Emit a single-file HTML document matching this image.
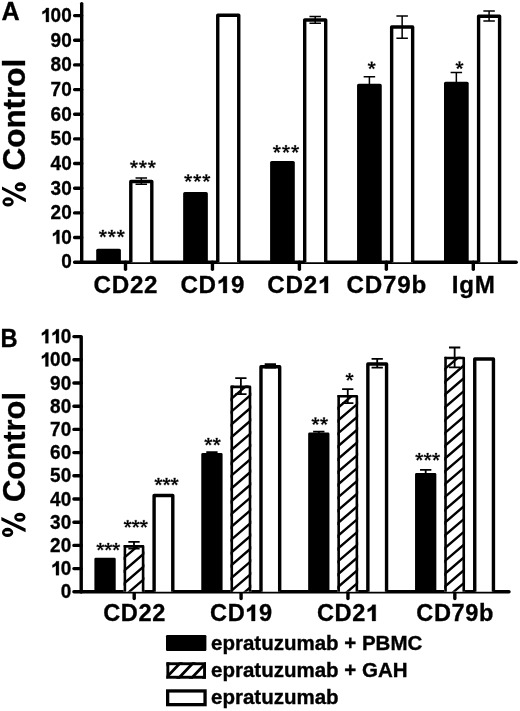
<!DOCTYPE html>
<html><head><meta charset="utf-8"><title>% Control</title><style>
html,body{margin:0;padding:0;background:#fff;}
body{width:520px;height:711px;overflow:hidden;}
svg{display:block;font-family:"Liberation Sans", sans-serif;filter:grayscale(1);}
text{stroke:#000;stroke-width:0.3px;}
.o{stroke:#000;stroke-width:0.3px;}
</style></head><body>
<svg width="520" height="711" viewBox="0 0 520 711">
<rect width="520" height="711" fill="#fff"/>
<defs><clipPath id="hc0"><rect x="123.60" y="545.10" width="20.80" height="46.70"/></clipPath><clipPath id="hc1"><rect x="230.48" y="385.60" width="20.80" height="206.20"/></clipPath><clipPath id="hc2"><rect x="337.36" y="394.90" width="20.80" height="196.90"/></clipPath><clipPath id="hc3"><rect x="444.24" y="356.70" width="20.80" height="235.10"/></clipPath><clipPath id="hl"><rect x="166.40" y="662.30" width="39.60" height="16.40"/></clipPath></defs>
<text x="1.4" y="19.6" font-size="25.2" font-weight="bold">A</text>
<text transform="translate(25.4,133.0) rotate(-90)" text-anchor="middle" font-size="31.5" font-weight="bold"><tspan style="fill:none;stroke:none">%</tspan> Control</text>
<path d="M2.42,201.90 A5.65,4.60 0 1 0 13.72,201.90 A5.65,4.60 0 1 0 2.42,201.90 Z M4.97,201.90 A3.10,1.30 0 1 0 11.17,201.90 A3.10,1.30 0 1 0 4.97,201.90 Z M14.70,186.95 A5.65,4.60 0 1 0 26.00,186.95 A5.65,4.60 0 1 0 14.70,186.95 Z M17.25,186.95 A3.10,1.30 0 1 0 23.45,186.95 A3.10,1.30 0 1 0 17.25,186.95 Z M2.00,186.50 L2.00,189.80 L25.90,202.20 L25.90,198.60Z" fill="#000" fill-rule="evenodd"/>
<path d="M81.7,262.2 V3.6" stroke="#000" stroke-width="3.4" stroke-linecap="round" fill="none"/>
<g transform="translate(0,268.50) scale(1,1.06) translate(0,-268.50)"><text x="61.14" y="268.50" font-size="19" font-weight="bold">0</text></g>
<g transform="translate(0,243.84) scale(1,1.06) translate(0,-243.84)"><path transform="translate(50.57,243.84) scale(0.01900,-0.01900)" d="M465,0 H312 V487 C262,441 203,407 125,383 V511 C170,526 215,550 252,579 C290,610 315,646 328,691 H465 Z" class="o" vector-effect="non-scaling-stroke"/><text x="61.14" y="243.84" font-size="19" font-weight="bold">0</text></g>
<g transform="translate(0,219.18) scale(1,1.06) translate(0,-219.18)"><text x="50.57" y="219.18" font-size="19" font-weight="bold">2</text><text x="61.14" y="219.18" font-size="19" font-weight="bold">0</text></g>
<g transform="translate(0,194.52) scale(1,1.06) translate(0,-194.52)"><text x="50.57" y="194.52" font-size="19" font-weight="bold">3</text><text x="61.14" y="194.52" font-size="19" font-weight="bold">0</text></g>
<g transform="translate(0,169.86) scale(1,1.06) translate(0,-169.86)"><text x="50.57" y="169.86" font-size="19" font-weight="bold">4</text><text x="61.14" y="169.86" font-size="19" font-weight="bold">0</text></g>
<g transform="translate(0,145.20) scale(1,1.06) translate(0,-145.20)"><text x="50.57" y="145.20" font-size="19" font-weight="bold">5</text><text x="61.14" y="145.20" font-size="19" font-weight="bold">0</text></g>
<g transform="translate(0,120.54) scale(1,1.06) translate(0,-120.54)"><text x="50.57" y="120.54" font-size="19" font-weight="bold">6</text><text x="61.14" y="120.54" font-size="19" font-weight="bold">0</text></g>
<g transform="translate(0,95.88) scale(1,1.06) translate(0,-95.88)"><text x="50.57" y="95.88" font-size="19" font-weight="bold">7</text><text x="61.14" y="95.88" font-size="19" font-weight="bold">0</text></g>
<g transform="translate(0,71.22) scale(1,1.06) translate(0,-71.22)"><text x="50.57" y="71.22" font-size="19" font-weight="bold">8</text><text x="61.14" y="71.22" font-size="19" font-weight="bold">0</text></g>
<g transform="translate(0,46.56) scale(1,1.06) translate(0,-46.56)"><text x="50.57" y="46.56" font-size="19" font-weight="bold">9</text><text x="61.14" y="46.56" font-size="19" font-weight="bold">0</text></g>
<g transform="translate(0,21.90) scale(1,1.06) translate(0,-21.90)"><path transform="translate(40.01,21.90) scale(0.01900,-0.01900)" d="M465,0 H312 V487 C262,441 203,407 125,383 V511 C170,526 215,550 252,579 C290,610 315,646 328,691 H465 Z" class="o" vector-effect="non-scaling-stroke"/><text x="50.57" y="21.90" font-size="19" font-weight="bold">0</text><text x="61.14" y="21.90" font-size="19" font-weight="bold">0</text></g>
<path d="M74.6,262.20 H81.7 M74.6,237.54 H81.7 M74.6,212.88 H81.7 M74.6,188.22 H81.7 M74.6,163.56 H81.7 M74.6,138.90 H81.7 M74.6,114.24 H81.7 M74.6,89.58 H81.7 M74.6,64.92 H81.7 M74.6,40.26 H81.7 M74.6,15.60 H81.7" stroke="#000" stroke-width="3.4" stroke-linecap="round"/>
<path d="M81.7,262.2 H516.2" stroke="#000" stroke-width="3.4" stroke-linecap="round" fill="none"/>
<path d="M125.50,262.2 V269.3" stroke="#000" stroke-width="3.4" stroke-linecap="round"/>
<text x="93.44" y="293.00" font-size="24.2" font-weight="bold">C</text><text x="111.67" y="293.00" font-size="24.2" font-weight="bold">D</text><text x="129.89" y="293.00" font-size="24.2" font-weight="bold">2</text><text x="144.10" y="293.00" font-size="24.2" font-weight="bold">2</text>
<path d="M96.20,262.20 V250.25 Q96.20,248.65 97.80,248.65 H119.30 Q120.90,248.65 120.90,250.25 V262.20 Z" fill="#000"/>
<path d="M130.80,262.20 V181.50 H151.80 V262.20" stroke="#000" stroke-width="3.4" fill="#fff" stroke-linejoin="round"/>
<path d="M212.45,262.2 V269.3" stroke="#000" stroke-width="3.4" stroke-linecap="round"/>
<text x="180.39" y="293.00" font-size="24.2" font-weight="bold">C</text><text x="198.62" y="293.00" font-size="24.2" font-weight="bold">D</text><path transform="translate(215.63,293.00) scale(0.02420,-0.02420)" d="M465,0 H312 V487 C262,441 203,407 125,383 V511 C170,526 215,550 252,579 C290,610 315,646 328,691 H465 Z" class="o" vector-effect="non-scaling-stroke"/><text x="231.05" y="293.00" font-size="24.2" font-weight="bold">9</text>
<path d="M183.15,262.20 V193.70 Q183.15,192.10 184.75,192.10 H206.25 Q207.85,192.10 207.85,193.70 V262.20 Z" fill="#000"/>
<path d="M217.75,262.20 V15.30 H238.75 V262.20" stroke="#000" stroke-width="3.4" fill="#fff" stroke-linejoin="round"/>
<path d="M299.40,262.2 V269.3" stroke="#000" stroke-width="3.4" stroke-linecap="round"/>
<text x="267.34" y="293.00" font-size="24.2" font-weight="bold">C</text><text x="285.57" y="293.00" font-size="24.2" font-weight="bold">D</text><text x="303.79" y="293.00" font-size="24.2" font-weight="bold">2</text><path transform="translate(316.79,293.00) scale(0.02420,-0.02420)" d="M465,0 H312 V487 C262,441 203,407 125,383 V511 C170,526 215,550 252,579 C290,610 315,646 328,691 H465 Z" class="o" vector-effect="non-scaling-stroke"/>
<path d="M270.10,262.20 V162.50 Q270.10,160.90 271.70,160.90 H293.20 Q294.80,160.90 294.80,162.50 V262.20 Z" fill="#000"/>
<path d="M304.70,262.20 V20.00 H325.70 V262.20" stroke="#000" stroke-width="3.4" fill="#fff" stroke-linejoin="round"/>
<path d="M386.35,262.2 V269.3" stroke="#000" stroke-width="3.4" stroke-linecap="round"/>
<text x="346.52" y="293.00" font-size="24.2" font-weight="bold">C</text><text x="364.75" y="293.00" font-size="24.2" font-weight="bold">D</text><text x="382.98" y="293.00" font-size="24.2" font-weight="bold">7</text><text x="397.19" y="293.00" font-size="24.2" font-weight="bold">9</text><text x="411.39" y="293.00" font-size="24.2" font-weight="bold">b</text>
<path d="M357.05,262.20 V85.45 Q357.05,83.85 358.65,83.85 H380.15 Q381.75,83.85 381.75,85.45 V262.20 Z" fill="#000"/>
<path d="M391.65,262.20 V27.00 H412.65 V262.20" stroke="#000" stroke-width="3.4" fill="#fff" stroke-linejoin="round"/>
<path d="M473.30,262.2 V269.3" stroke="#000" stroke-width="3.4" stroke-linecap="round"/>
<text x="451.72" y="293.00" font-size="24.2" font-weight="bold">I</text><text x="459.19" y="293.00" font-size="24.2" font-weight="bold">g</text><text x="474.72" y="293.00" font-size="24.2" font-weight="bold">M</text>
<path d="M444.00,262.20 V83.45 Q444.00,81.85 445.60,81.85 H467.10 Q468.70,81.85 468.70,83.45 V262.20 Z" fill="#000"/>
<path d="M478.60,262.20 V16.20 H499.60 V262.20" stroke="#000" stroke-width="3.4" fill="#fff" stroke-linejoin="round"/>
<path d="M135.55,178.10 H147.05 M135.55,184.30 H147.05 M141.30,178.10 V184.30 M309.45,16.50 H320.95 M309.45,23.30 H320.95 M315.20,16.50 V23.30 M363.65,76.80 H375.15 M369.40,76.80 V85.85 M396.40,15.95 H407.90 M396.40,38.30 H407.90 M402.15,15.95 V38.30 M450.60,72.60 H462.10 M456.35,72.60 V83.85 M483.35,10.90 H494.85 M483.35,20.90 H494.85 M489.10,10.90 V20.90" stroke="#000" stroke-width="1.5" fill="none"/>
<text transform="translate(0.4,346.8) scale(0.93,1)" font-size="25.5" font-weight="bold">B</text>
<text transform="translate(24.9,465.1) rotate(-90)" text-anchor="middle" font-size="31" font-weight="bold"><tspan style="fill:none;stroke:none">%</tspan> Control</text>
<path d="M1.95,532.45 A5.65,4.60 0 1 0 13.25,532.45 A5.65,4.60 0 1 0 1.95,532.45 Z M4.50,532.45 A3.10,1.30 0 1 0 10.70,532.45 A3.10,1.30 0 1 0 4.50,532.45 Z M14.20,517.25 A5.65,4.60 0 1 0 25.50,517.25 A5.65,4.60 0 1 0 14.20,517.25 Z M16.75,517.25 A3.10,1.30 0 1 0 22.95,517.25 A3.10,1.30 0 1 0 16.75,517.25 Z M1.35,517.10 L1.35,520.40 L25.60,532.20 L25.60,528.60Z" fill="#000" fill-rule="evenodd"/>
<path d="M73.9,336.60 H81.2 V591.8" stroke="#000" stroke-width="3.4" fill="none" stroke-linejoin="round" stroke-linecap="round"/>
<g transform="translate(0,598.40) scale(1,1.06) translate(0,-598.40)"><text x="60.64" y="598.40" font-size="19" font-weight="bold">0</text></g>
<g transform="translate(0,575.20) scale(1,1.06) translate(0,-575.20)"><path transform="translate(50.07,575.20) scale(0.01900,-0.01900)" d="M465,0 H312 V487 C262,441 203,407 125,383 V511 C170,526 215,550 252,579 C290,610 315,646 328,691 H465 Z" class="o" vector-effect="non-scaling-stroke"/><text x="60.64" y="575.20" font-size="19" font-weight="bold">0</text></g>
<g transform="translate(0,552.00) scale(1,1.06) translate(0,-552.00)"><text x="50.07" y="552.00" font-size="19" font-weight="bold">2</text><text x="60.64" y="552.00" font-size="19" font-weight="bold">0</text></g>
<g transform="translate(0,528.80) scale(1,1.06) translate(0,-528.80)"><text x="50.07" y="528.80" font-size="19" font-weight="bold">3</text><text x="60.64" y="528.80" font-size="19" font-weight="bold">0</text></g>
<g transform="translate(0,505.60) scale(1,1.06) translate(0,-505.60)"><text x="50.07" y="505.60" font-size="19" font-weight="bold">4</text><text x="60.64" y="505.60" font-size="19" font-weight="bold">0</text></g>
<g transform="translate(0,482.40) scale(1,1.06) translate(0,-482.40)"><text x="50.07" y="482.40" font-size="19" font-weight="bold">5</text><text x="60.64" y="482.40" font-size="19" font-weight="bold">0</text></g>
<g transform="translate(0,459.20) scale(1,1.06) translate(0,-459.20)"><text x="50.07" y="459.20" font-size="19" font-weight="bold">6</text><text x="60.64" y="459.20" font-size="19" font-weight="bold">0</text></g>
<g transform="translate(0,436.00) scale(1,1.06) translate(0,-436.00)"><text x="50.07" y="436.00" font-size="19" font-weight="bold">7</text><text x="60.64" y="436.00" font-size="19" font-weight="bold">0</text></g>
<g transform="translate(0,412.80) scale(1,1.06) translate(0,-412.80)"><text x="50.07" y="412.80" font-size="19" font-weight="bold">8</text><text x="60.64" y="412.80" font-size="19" font-weight="bold">0</text></g>
<g transform="translate(0,389.60) scale(1,1.06) translate(0,-389.60)"><text x="50.07" y="389.60" font-size="19" font-weight="bold">9</text><text x="60.64" y="389.60" font-size="19" font-weight="bold">0</text></g>
<g transform="translate(0,366.40) scale(1,1.06) translate(0,-366.40)"><path transform="translate(39.51,366.40) scale(0.01900,-0.01900)" d="M465,0 H312 V487 C262,441 203,407 125,383 V511 C170,526 215,550 252,579 C290,610 315,646 328,691 H465 Z" class="o" vector-effect="non-scaling-stroke"/><text x="50.07" y="366.40" font-size="19" font-weight="bold">0</text><text x="60.64" y="366.40" font-size="19" font-weight="bold">0</text></g>
<g transform="translate(0,343.20) scale(1,1.06) translate(0,-343.20)"><path transform="translate(39.51,343.20) scale(0.01900,-0.01900)" d="M465,0 H312 V487 C262,441 203,407 125,383 V511 C170,526 215,550 252,579 C290,610 315,646 328,691 H465 Z" class="o" vector-effect="non-scaling-stroke"/><path transform="translate(50.07,343.20) scale(0.01900,-0.01900)" d="M465,0 H312 V487 C262,441 203,407 125,383 V511 C170,526 215,550 252,579 C290,610 315,646 328,691 H465 Z" class="o" vector-effect="non-scaling-stroke"/><text x="60.64" y="343.20" font-size="19" font-weight="bold">0</text></g>
<path d="M73.9,591.80 H81.2 M73.9,568.60 H81.2 M73.9,545.40 H81.2 M73.9,522.20 H81.2 M73.9,499.00 H81.2 M73.9,475.80 H81.2 M73.9,452.60 H81.2 M73.9,429.40 H81.2 M73.9,406.20 H81.2 M73.9,383.00 H81.2 M73.9,359.80 H81.2" stroke="#000" stroke-width="3.4" stroke-linecap="round"/>
<path d="M81.2,591.8 H509" stroke="#000" stroke-width="3.4" stroke-linecap="round" fill="none"/>
<path d="M134.20,591.8 V598.5" stroke="#000" stroke-width="3.4" stroke-linecap="round"/>
<text x="103.13" y="621.00" font-size="23.6" font-weight="bold">C</text><text x="120.77" y="621.00" font-size="23.6" font-weight="bold">D</text><text x="138.42" y="621.00" font-size="23.6" font-weight="bold">2</text><text x="152.14" y="621.00" font-size="23.6" font-weight="bold">2</text>
<path d="M94.40,591.80 V559.10 Q94.40,557.70 95.80,557.70 H114.30 Q115.70,557.70 115.70,559.10 V591.80 Z" fill="#000"/>
<rect x="123.60" y="545.10" width="20.80" height="46.70" fill="#fff"/>
<path clip-path="url(#hc0)" d="M118.60,524.14 L149.40,497.65 M118.60,536.94 L149.40,510.45 M118.60,549.74 L149.40,523.25 M118.60,562.54 L149.40,536.05 M118.60,575.34 L149.40,548.85 M118.60,588.14 L149.40,561.65 M118.60,600.94 L149.40,574.45 M118.60,613.74 L149.40,587.25 M118.60,626.54 L149.40,600.05 M118.60,639.34 L149.40,612.85" stroke="#000" stroke-width="2.4" fill="none"/>
<path d="M124.90,591.80 V546.40 H143.10 V591.80" stroke="#000" stroke-width="2.6" fill="none" stroke-linejoin="round"/>
<path d="M154.10,591.80 V495.50 H172.80 V591.80" stroke="#000" stroke-width="3.4" fill="#fff" stroke-linejoin="round"/>
<path d="M241.08,591.8 V598.5" stroke="#000" stroke-width="3.4" stroke-linecap="round"/>
<text x="210.01" y="621.00" font-size="23.6" font-weight="bold">C</text><text x="227.65" y="621.00" font-size="23.6" font-weight="bold">D</text><path transform="translate(244.12,621.00) scale(0.02360,-0.02360)" d="M465,0 H312 V487 C262,441 203,407 125,383 V511 C170,526 215,550 252,579 C290,610 315,646 328,691 H465 Z" class="o" vector-effect="non-scaling-stroke"/><text x="259.02" y="621.00" font-size="23.6" font-weight="bold">9</text>
<path d="M201.28,591.80 V454.50 Q201.28,453.10 202.68,453.10 H221.18 Q222.58,453.10 222.58,454.50 V591.80 Z" fill="#000"/>
<rect x="230.48" y="385.60" width="20.80" height="206.20" fill="#fff"/>
<path clip-path="url(#hc1)" d="M225.48,365.44 L256.28,338.95 M225.48,378.24 L256.28,351.75 M225.48,391.04 L256.28,364.55 M225.48,403.84 L256.28,377.35 M225.48,416.64 L256.28,390.15 M225.48,429.44 L256.28,402.95 M225.48,442.24 L256.28,415.75 M225.48,455.04 L256.28,428.55 M225.48,467.84 L256.28,441.35 M225.48,480.64 L256.28,454.15 M225.48,493.44 L256.28,466.95 M225.48,506.24 L256.28,479.75 M225.48,519.04 L256.28,492.55 M225.48,531.84 L256.28,505.35 M225.48,544.64 L256.28,518.15 M225.48,557.44 L256.28,530.95 M225.48,570.24 L256.28,543.75 M225.48,583.04 L256.28,556.55 M225.48,595.84 L256.28,569.35 M225.48,608.64 L256.28,582.15 M225.48,621.44 L256.28,594.95 M225.48,634.24 L256.28,607.75" stroke="#000" stroke-width="2.4" fill="none"/>
<path d="M231.78,591.80 V386.90 H249.98 V591.80" stroke="#000" stroke-width="2.6" fill="none" stroke-linejoin="round"/>
<path d="M260.98,591.80 V366.80 H279.68 V591.80" stroke="#000" stroke-width="3.4" fill="#fff" stroke-linejoin="round"/>
<path d="M347.96,591.8 V598.5" stroke="#000" stroke-width="3.4" stroke-linecap="round"/>
<text x="316.89" y="621.00" font-size="23.6" font-weight="bold">C</text><text x="334.53" y="621.00" font-size="23.6" font-weight="bold">D</text><text x="352.18" y="621.00" font-size="23.6" font-weight="bold">2</text><path transform="translate(364.72,621.00) scale(0.02360,-0.02360)" d="M465,0 H312 V487 C262,441 203,407 125,383 V511 C170,526 215,550 252,579 C290,610 315,646 328,691 H465 Z" class="o" vector-effect="non-scaling-stroke"/>
<path d="M308.16,591.80 V434.00 Q308.16,432.60 309.56,432.60 H328.06 Q329.46,432.60 329.46,434.00 V591.80 Z" fill="#000"/>
<rect x="337.36" y="394.90" width="20.80" height="196.90" fill="#fff"/>
<path clip-path="url(#hc2)" d="M332.36,374.24 L363.16,347.75 M332.36,387.04 L363.16,360.55 M332.36,399.84 L363.16,373.35 M332.36,412.64 L363.16,386.15 M332.36,425.44 L363.16,398.95 M332.36,438.24 L363.16,411.75 M332.36,451.04 L363.16,424.55 M332.36,463.84 L363.16,437.35 M332.36,476.64 L363.16,450.15 M332.36,489.44 L363.16,462.95 M332.36,502.24 L363.16,475.75 M332.36,515.04 L363.16,488.55 M332.36,527.84 L363.16,501.35 M332.36,540.64 L363.16,514.15 M332.36,553.44 L363.16,526.95 M332.36,566.24 L363.16,539.75 M332.36,579.04 L363.16,552.55 M332.36,591.84 L363.16,565.35 M332.36,604.64 L363.16,578.15 M332.36,617.44 L363.16,590.95 M332.36,630.24 L363.16,603.75" stroke="#000" stroke-width="2.4" fill="none"/>
<path d="M338.66,591.80 V396.20 H356.86 V591.80" stroke="#000" stroke-width="2.6" fill="none" stroke-linejoin="round"/>
<path d="M367.86,591.80 V364.00 H386.56 V591.80" stroke="#000" stroke-width="3.4" fill="#fff" stroke-linejoin="round"/>
<path d="M454.84,591.8 V598.5" stroke="#000" stroke-width="3.4" stroke-linecap="round"/>
<text x="416.26" y="621.00" font-size="23.6" font-weight="bold">C</text><text x="433.91" y="621.00" font-size="23.6" font-weight="bold">D</text><text x="451.55" y="621.00" font-size="23.6" font-weight="bold">7</text><text x="465.28" y="621.00" font-size="23.6" font-weight="bold">9</text><text x="479.00" y="621.00" font-size="23.6" font-weight="bold">b</text>
<path d="M415.04,591.80 V474.40 Q415.04,473.00 416.44,473.00 H434.94 Q436.34,473.00 436.34,474.40 V591.80 Z" fill="#000"/>
<rect x="444.24" y="356.70" width="20.80" height="235.10" fill="#fff"/>
<path clip-path="url(#hc3)" d="M439.24,335.44 L470.04,308.95 M439.24,348.24 L470.04,321.75 M439.24,361.04 L470.04,334.55 M439.24,373.84 L470.04,347.35 M439.24,386.64 L470.04,360.15 M439.24,399.44 L470.04,372.95 M439.24,412.24 L470.04,385.75 M439.24,425.04 L470.04,398.55 M439.24,437.84 L470.04,411.35 M439.24,450.64 L470.04,424.15 M439.24,463.44 L470.04,436.95 M439.24,476.24 L470.04,449.75 M439.24,489.04 L470.04,462.55 M439.24,501.84 L470.04,475.35 M439.24,514.64 L470.04,488.15 M439.24,527.44 L470.04,500.95 M439.24,540.24 L470.04,513.75 M439.24,553.04 L470.04,526.55 M439.24,565.84 L470.04,539.35 M439.24,578.64 L470.04,552.15 M439.24,591.44 L470.04,564.95 M439.24,604.24 L470.04,577.75 M439.24,617.04 L470.04,590.55 M439.24,629.84 L470.04,603.35" stroke="#000" stroke-width="2.4" fill="none"/>
<path d="M445.54,591.80 V358.00 H463.74 V591.80" stroke="#000" stroke-width="2.6" fill="none" stroke-linejoin="round"/>
<path d="M474.74,591.80 V359.00 H493.44 V591.80" stroke="#000" stroke-width="3.4" fill="#fff" stroke-linejoin="round"/>
<path d="M128.35,541.90 H139.65 M128.35,548.70 H139.65 M134.00,541.90 V548.70 M206.28,452.10 H217.58 M211.93,452.10 V455.10 M235.23,378.10 H246.53 M235.23,394.20 H246.53 M240.88,378.10 V394.20 M264.68,364.20 H275.98 M264.68,367.60 H275.98 M270.33,364.20 V367.60 M313.16,431.60 H324.46 M318.81,431.60 V434.60 M342.11,389.20 H353.41 M342.11,403.20 H353.41 M347.76,389.20 V403.20 M371.56,358.90 H382.86 M371.56,367.70 H382.86 M377.21,358.90 V367.70 M420.04,469.90 H431.34 M425.69,469.90 V475.00 M448.99,347.50 H460.29 M448.99,367.30 H460.29 M454.64,347.50 V367.30" stroke="#000" stroke-width="1.8" fill="none"/>
<path d="M103.27,233.65 L103.84,229.90 L101.89,229.90 L102.47,233.65Z M102.99,234.03 L106.74,233.42 L106.13,231.56 L102.74,233.27Z M102.99,233.27 L99.60,231.56 L99.00,233.42 L102.74,234.03Z M102.54,233.89 L104.28,237.26 L105.86,236.11 L103.19,233.41Z M102.54,233.41 L99.87,236.11 L101.45,237.26 L103.19,233.89Z M112.20,233.65 L112.77,229.90 L110.83,229.90 L111.40,233.65Z M111.92,234.03 L115.67,233.42 L115.07,231.56 L111.68,233.27Z M111.92,233.27 L108.53,231.56 L107.93,233.42 L111.68,234.03Z M111.48,233.89 L113.22,237.26 L114.79,236.11 L112.12,233.41Z M111.48,233.41 L108.81,236.11 L110.38,237.26 L112.12,233.89Z M121.13,233.65 L121.71,229.90 L119.76,229.90 L120.33,233.65Z M120.86,234.03 L124.60,233.42 L124.00,231.56 L120.61,233.27Z M120.86,233.27 L117.47,231.56 L116.86,233.42 L120.61,234.03Z M120.41,233.89 L122.15,237.26 L123.73,236.11 L121.06,233.41Z M120.41,233.41 L117.74,236.11 L119.32,237.26 L121.06,233.89Z M134.37,164.50 L134.94,160.75 L132.99,160.75 L133.57,164.50Z M134.09,164.88 L137.84,164.27 L137.23,162.41 L133.84,164.12Z M134.09,164.12 L130.70,162.41 L130.10,164.27 L133.84,164.88Z M133.64,164.74 L135.38,168.11 L136.96,166.96 L134.29,164.26Z M133.64,164.26 L130.97,166.96 L132.55,168.11 L134.29,164.74Z M143.30,164.50 L143.87,160.75 L141.92,160.75 L142.50,164.50Z M143.02,164.88 L146.77,164.27 L146.17,162.41 L142.78,164.12Z M143.02,164.12 L139.63,162.41 L139.03,164.27 L142.78,164.88Z M142.58,164.74 L144.32,168.11 L145.89,166.96 L143.22,164.26Z M142.58,164.26 L139.91,166.96 L141.48,168.11 L143.22,164.74Z M152.23,164.50 L152.81,160.75 L150.86,160.75 L151.43,164.50Z M151.96,164.88 L155.70,164.27 L155.10,162.41 L151.71,164.12Z M151.96,164.12 L148.57,162.41 L147.96,164.27 L151.71,164.88Z M151.51,164.74 L153.25,168.11 L154.83,166.96 L152.16,164.26Z M151.51,164.26 L148.84,166.96 L150.42,168.11 L152.16,164.74Z M188.57,178.20 L189.14,174.45 L187.19,174.45 L187.77,178.20Z M188.29,178.58 L192.04,177.97 L191.43,176.11 L188.04,177.82Z M188.29,177.82 L184.90,176.11 L184.30,177.97 L188.04,178.58Z M187.84,178.44 L189.58,181.81 L191.16,180.66 L188.49,177.96Z M187.84,177.96 L185.17,180.66 L186.75,181.81 L188.49,178.44Z M197.65,178.20 L198.22,174.45 L196.28,174.45 L196.85,178.20Z M197.37,178.58 L201.12,177.97 L200.52,176.11 L197.13,177.82Z M197.37,177.82 L193.98,176.11 L193.38,177.97 L197.13,178.58Z M196.93,178.44 L198.67,181.81 L200.24,180.66 L197.57,177.96Z M196.93,177.96 L194.26,180.66 L195.83,181.81 L197.57,178.44Z M206.73,178.20 L207.31,174.45 L205.36,174.45 L205.93,178.20Z M206.46,178.58 L210.20,177.97 L209.60,176.11 L206.21,177.82Z M206.46,177.82 L203.07,176.11 L202.46,177.97 L206.21,178.58Z M206.01,178.44 L207.75,181.81 L209.33,180.66 L206.66,177.96Z M206.01,177.96 L203.34,180.66 L204.92,181.81 L206.66,178.44Z M277.27,149.10 L277.84,145.35 L275.89,145.35 L276.47,149.10Z M276.99,149.48 L280.74,148.87 L280.13,147.01 L276.74,148.72Z M276.99,148.72 L273.60,147.01 L273.00,148.87 L276.74,149.48Z M276.54,149.34 L278.28,152.71 L279.86,151.56 L277.19,148.86Z M276.54,148.86 L273.87,151.56 L275.45,152.71 L277.19,149.34Z M286.40,149.10 L286.98,145.35 L285.02,145.35 L285.60,149.10Z M286.12,149.48 L289.87,148.87 L289.27,147.01 L285.88,148.72Z M286.12,148.72 L282.73,147.01 L282.13,148.87 L285.88,149.48Z M285.68,149.34 L287.42,152.71 L288.99,151.56 L286.32,148.86Z M285.68,148.86 L283.01,151.56 L284.58,152.71 L286.32,149.34Z M295.53,149.10 L296.11,145.35 L294.16,145.35 L294.73,149.10Z M295.26,149.48 L299.00,148.87 L298.40,147.01 L295.01,148.72Z M295.26,148.72 L291.87,147.01 L291.26,148.87 L295.01,149.48Z M294.81,149.34 L296.55,152.71 L298.13,151.56 L295.46,148.86Z M294.81,148.86 L292.14,151.56 L293.72,152.71 L295.46,149.34Z M372.10,65.50 L372.68,61.75 L370.72,61.75 L371.30,65.50Z M371.82,65.88 L375.57,65.27 L374.97,63.41 L371.58,65.12Z M371.82,65.12 L368.43,63.41 L367.83,65.27 L371.58,65.88Z M371.38,65.74 L373.12,69.11 L374.69,67.96 L372.02,65.26Z M371.38,65.26 L368.71,67.96 L370.28,69.11 L372.02,65.74Z M459.90,65.35 L460.48,61.60 L458.52,61.60 L459.10,65.35Z M459.62,65.73 L463.37,65.12 L462.77,63.26 L459.38,64.97Z M459.62,64.97 L456.23,63.26 L455.63,65.12 L459.38,65.73Z M459.18,65.59 L460.92,68.96 L462.49,67.81 L459.82,65.11Z M459.18,65.11 L456.51,67.81 L458.08,68.96 L459.82,65.59Z M100.77,546.75 L101.34,543.00 L99.39,543.00 L99.97,546.75Z M100.49,547.13 L104.24,546.52 L103.63,544.66 L100.24,546.37Z M100.49,546.37 L97.10,544.66 L96.50,546.52 L100.24,547.13Z M100.04,546.99 L101.78,550.36 L103.36,549.21 L100.69,546.51Z M100.04,546.51 L97.37,549.21 L98.95,550.36 L100.69,546.99Z M108.65,546.75 L109.22,543.00 L107.28,543.00 L107.85,546.75Z M108.37,547.13 L112.12,546.52 L111.52,544.66 L108.13,546.37Z M108.37,546.37 L104.98,544.66 L104.38,546.52 L108.13,547.13Z M107.93,546.99 L109.67,550.36 L111.24,549.21 L108.57,546.51Z M107.93,546.51 L105.26,549.21 L106.83,550.36 L108.57,546.99Z M116.53,546.75 L117.11,543.00 L115.16,543.00 L115.73,546.75Z M116.26,547.13 L120.00,546.52 L119.40,544.66 L116.01,546.37Z M116.26,546.37 L112.87,544.66 L112.26,546.52 L116.01,547.13Z M115.81,546.99 L117.55,550.36 L119.13,549.21 L116.46,546.51Z M115.81,546.51 L113.14,549.21 L114.72,550.36 L116.46,546.99Z M128.07,523.95 L128.64,520.20 L126.69,520.20 L127.27,523.95Z M127.79,524.33 L131.54,523.72 L130.93,521.86 L127.54,523.57Z M127.79,523.57 L124.40,521.86 L123.80,523.72 L127.54,524.33Z M127.34,524.19 L129.08,527.56 L130.66,526.41 L127.99,523.71Z M127.34,523.71 L124.67,526.41 L126.25,527.56 L127.99,524.19Z M136.15,523.95 L136.72,520.20 L134.78,520.20 L135.35,523.95Z M135.87,524.33 L139.62,523.72 L139.02,521.86 L135.63,523.57Z M135.87,523.57 L132.48,521.86 L131.88,523.72 L135.63,524.33Z M135.43,524.19 L137.17,527.56 L138.74,526.41 L136.07,523.71Z M135.43,523.71 L132.76,526.41 L134.33,527.56 L136.07,524.19Z M144.23,523.95 L144.81,520.20 L142.86,520.20 L143.43,523.95Z M143.96,524.33 L147.70,523.72 L147.10,521.86 L143.71,523.57Z M143.96,523.57 L140.57,521.86 L139.96,523.72 L143.71,524.33Z M143.51,524.19 L145.25,527.56 L146.83,526.41 L144.16,523.71Z M143.51,523.71 L140.84,526.41 L142.42,527.56 L144.16,524.19Z M158.87,481.65 L159.44,477.90 L157.49,477.90 L158.07,481.65Z M158.59,482.03 L162.34,481.42 L161.73,479.56 L158.34,481.27Z M158.59,481.27 L155.20,479.56 L154.60,481.42 L158.34,482.03Z M158.14,481.89 L159.88,485.26 L161.46,484.11 L158.79,481.41Z M158.14,481.41 L155.47,484.11 L157.05,485.26 L158.79,481.89Z M166.95,481.65 L167.53,477.90 L165.58,477.90 L166.15,481.65Z M166.67,482.03 L170.42,481.42 L169.82,479.56 L166.43,481.27Z M166.67,481.27 L163.28,479.56 L162.68,481.42 L166.43,482.03Z M166.23,481.89 L167.97,485.26 L169.54,484.11 L166.87,481.41Z M166.23,481.41 L163.56,484.11 L165.13,485.26 L166.87,481.89Z M175.03,481.65 L175.61,477.90 L173.66,477.90 L174.23,481.65Z M174.76,482.03 L178.50,481.42 L177.90,479.56 L174.51,481.27Z M174.76,481.27 L171.37,479.56 L170.76,481.42 L174.51,482.03Z M174.31,481.89 L176.05,485.26 L177.63,484.11 L174.96,481.41Z M174.31,481.41 L171.64,484.11 L173.22,485.26 L174.96,481.89Z M208.77,441.70 L209.34,437.95 L207.39,437.95 L207.97,441.70Z M208.49,442.08 L212.24,441.47 L211.63,439.61 L208.24,441.32Z M208.49,441.32 L205.10,439.61 L204.50,441.47 L208.24,442.08Z M208.04,441.94 L209.78,445.31 L211.36,444.16 L208.69,441.46Z M208.04,441.46 L205.37,444.16 L206.95,445.31 L208.69,441.94Z M217.13,441.70 L217.71,437.95 L215.76,437.95 L216.33,441.70Z M216.86,442.08 L220.60,441.47 L220.00,439.61 L216.61,441.32Z M216.86,441.32 L213.47,439.61 L212.86,441.47 L216.61,442.08Z M216.41,441.94 L218.15,445.31 L219.73,444.16 L217.06,441.46Z M216.41,441.46 L213.74,444.16 L215.32,445.31 L217.06,441.94Z M315.87,421.25 L316.44,417.50 L314.49,417.50 L315.07,421.25Z M315.59,421.63 L319.34,421.02 L318.73,419.16 L315.34,420.87Z M315.59,420.87 L312.20,419.16 L311.60,421.02 L315.34,421.63Z M315.14,421.49 L316.88,424.86 L318.46,423.71 L315.79,421.01Z M315.14,421.01 L312.47,423.71 L314.05,424.86 L315.79,421.49Z M324.43,421.25 L325.01,417.50 L323.06,417.50 L323.63,421.25Z M324.16,421.63 L327.90,421.02 L327.30,419.16 L323.91,420.87Z M324.16,420.87 L320.77,419.16 L320.16,421.02 L323.91,421.63Z M323.71,421.49 L325.45,424.86 L327.03,423.71 L324.36,421.01Z M323.71,421.01 L321.04,423.71 L322.62,424.86 L324.36,421.49Z M350.00,376.95 L350.58,373.20 L348.62,373.20 L349.20,376.95Z M349.72,377.33 L353.47,376.72 L352.87,374.86 L349.48,376.57Z M349.72,376.57 L346.33,374.86 L345.73,376.72 L349.48,377.33Z M349.28,377.19 L351.02,380.56 L352.59,379.41 L349.92,376.71Z M349.28,376.71 L346.61,379.41 L348.18,380.56 L349.92,377.19Z M419.67,456.85 L420.24,453.10 L418.29,453.10 L418.87,456.85Z M419.39,457.23 L423.14,456.62 L422.53,454.76 L419.14,456.47Z M419.39,456.47 L416.00,454.76 L415.40,456.62 L419.14,457.23Z M418.94,457.09 L420.68,460.46 L422.26,459.31 L419.59,456.61Z M418.94,456.61 L416.27,459.31 L417.85,460.46 L419.59,457.09Z M428.05,456.85 L428.62,453.10 L426.67,453.10 L427.25,456.85Z M427.77,457.23 L431.52,456.62 L430.92,454.76 L427.53,456.47Z M427.77,456.47 L424.38,454.76 L423.78,456.62 L427.53,457.23Z M427.33,457.09 L429.07,460.46 L430.64,459.31 L427.97,456.61Z M427.33,456.61 L424.66,459.31 L426.23,460.46 L427.97,457.09Z M436.43,456.85 L437.01,453.10 L435.06,453.10 L435.63,456.85Z M436.16,457.23 L439.90,456.62 L439.30,454.76 L435.91,456.47Z M436.16,456.47 L432.77,454.76 L432.16,456.62 L435.91,457.23Z M435.71,457.09 L437.45,460.46 L439.03,459.31 L436.36,456.61Z M435.71,456.61 L433.04,459.31 L434.62,460.46 L436.36,457.09Z" fill="#000" stroke="#000" stroke-width="0.3" stroke-linejoin="round"/>
<rect x="166" y="635" width="40.4" height="16" rx="1.2" fill="#000"/>
<rect x="166.4" y="662.3" width="39.6" height="16.4" fill="#fff"/>
<path clip-path="url(#hl)" d="M161.40,642.25 L211.00,590.16 M161.40,655.75 L211.00,603.66 M161.40,669.25 L211.00,617.16 M161.40,682.75 L211.00,630.66 M161.40,696.25 L211.00,644.16 M161.40,709.75 L211.00,657.66 M161.40,723.25 L211.00,671.16 M161.40,736.75 L211.00,684.66 M161.40,750.25 L211.00,698.16" stroke="#000" stroke-width="2.8" fill="none"/>
<rect x="167.85" y="663.75" width="36.7" height="13.5" fill="none" stroke="#000" stroke-width="2.9"/>
<rect x="167.65" y="690.9499999999999" width="37.400000000000006" height="13.7" fill="#fff" stroke="#000" stroke-width="3.3"/>
<text x="211" y="649.8" font-size="20.5" font-weight="bold" style="stroke-width:0.35px">epratuzumab + PBMC</text>
<text x="211" y="676.7" font-size="20.5" font-weight="bold" style="stroke-width:0.35px">epratuzumab + GAH</text>
<text x="211" y="704" font-size="20.5" font-weight="bold" style="stroke-width:0.35px">epratuzumab</text>
</svg>
</body></html>
